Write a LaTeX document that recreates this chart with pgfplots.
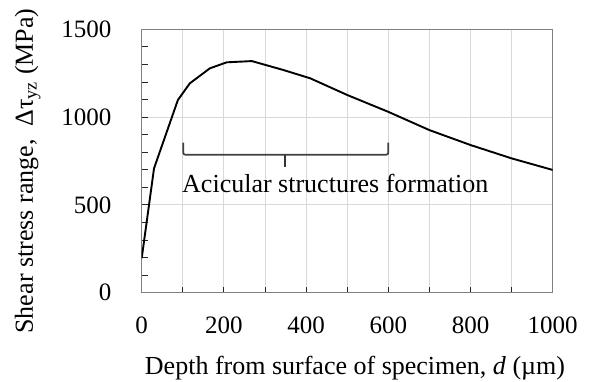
\documentclass[border=0pt]{standalone}
\usepackage{fontspec}
\setmainfont{Liberation Serif}
\usepackage{pgfplots}
\pgfplotsset{compat=1.18}
\definecolor{gridc}{HTML}{D9D9D9}
\definecolor{framec}{HTML}{808080}
\begin{document}
\begin{tikzpicture}
\path[use as bounding box] (-141.7pt,-88.3pt) rectangle (450.3pt,292.7pt);
\begin{axis}[
  scale only axis,
  width=411pt, height=263.4pt,
  xmin=0, xmax=1000, ymin=0, ymax=1500,
  xtick={0,200,...,1000}, minor x tick num=1,
  ytick={0,500,1000,1500}, minor y tick num=4,
  xmajorgrids, xminorgrids, ymajorgrids,
  grid style={gridc, line width=0.9pt},
  minor grid style={gridc, line width=0.9pt},
  axis line style={framec, line width=1.3pt},
  tick style={black!85, line width=0.9pt},
  major tick length=6pt, minor tick length=6pt,
  tick pos=left, tick align=inside,
  /pgf/number format/assume math mode=true,
  /pgf/number format/set thousands separator={},
  ticklabel style={font=\fontsize{25}{30}\selectfont, inner sep=0pt},
  yticklabel style={anchor=east, xshift=-30pt},
  xticklabel style={anchor=north, yshift=-24pt},
  xlabel={Depth from surface of specimen, \textit{d} (µm)},
  ylabel={Shear stress range,\ \ Δτ\textsubscript{yz} (MPa)},
  label style={font=\fontsize{26}{31}\selectfont},
  xlabel style={at={(axis description cs:0.519,-0.3087)}, anchor=base},
  ylabel style={at={(axis description cs:-0.2645,0.462)}, anchor=base},
]
\addplot[black, line width=1.9pt] coordinates {
(0,196) (30,708) (88,1097) (117,1192) (166,1278) (207,1312) (268,1319)
(345,1268) (410,1221) (500,1126) (600,1030) (700,926) (800,841) (900,765) (1000,699)
};
\draw[line width=1.7pt, black!75, rounded corners=2pt]
  (axis cs:101,855) -- (axis cs:101,786) -- (axis cs:600,786) -- (axis cs:600,855);
\draw[line width=2.6pt, black!80] (axis cs:349,786) -- (axis cs:349,718);
\node[anchor=base, inner sep=0pt, font=\fontsize{26}{31}\selectfont] at (axis cs:471,570) {Acicular structures formation};
\end{axis}
\end{tikzpicture}
\end{document}
